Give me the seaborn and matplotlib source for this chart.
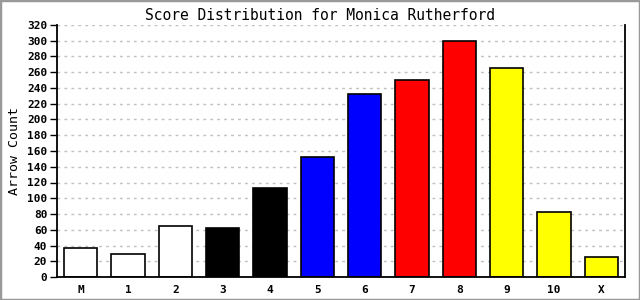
import matplotlib
matplotlib.use("Agg")
import matplotlib.pyplot as plt
import seaborn as sns
import pandas as pd
from matplotlib.patches import Rectangle

categories = ["M", "1", "2", "3", "4", "5", "6", "7", "8", "9", "10", "X"]
counts = [37, 29, 65, 62, 113, 153, 232, 250, 300, 266, 83, 25]
bar_colors = ["#ffffff", "#ffffff", "#ffffff", "#000000", "#000000", "#0000ff",
              "#0000ff", "#ff0000", "#ff0000", "#ffff00", "#ffff00", "#ffff00"]
y_ticks = list(range(0, 321, 20))

sns.set_theme(style="white")
plt.rcParams["font.family"] = ["DejaVu Sans Mono"]
plt.rcParams["text.color"] = "black"
plt.rcParams["axes.labelcolor"] = "black"
plt.rcParams["xtick.color"] = "black"
plt.rcParams["ytick.color"] = "black"

df = pd.DataFrame({"Score": categories, "Count": counts})

fig = plt.figure(figsize=(6.4, 3.0), dpi=100)
fig.patch.set_facecolor("white")
ax = fig.add_axes([57 / 640, 23 / 300, (625 - 57) / 640, (277 - 25) / 300])

sns.barplot(data=df, x="Score", y="Count", hue="Score", order=categories,
            palette=dict(zip(categories, bar_colors)), legend=False,
            edgecolor="black", linewidth=1.2, width=0.71, saturation=1, ax=ax)

ax.set_ylim(0, 320)
ax.set_xlim(-0.5, len(categories) - 0.5)
ax.set_yticks(y_ticks)
ax.set_yticklabels([str(v) for v in y_ticks], fontweight="bold", fontsize=8, color="black")
ax.set_xticks(range(len(categories)))
ax.set_xticklabels(categories, fontweight="bold", fontsize=8, color="black")
ax.tick_params(axis="y", direction="out", length=5, width=1, color="black", pad=2, left=True)
ax.tick_params(axis="x", length=0, pad=6)
ax.set_axisbelow(True)
ax.yaxis.grid(True, color="#c0c0c0", linestyle=(0, (2, 3)), linewidth=1)
ax.xaxis.grid(False)

for side in ["left", "bottom", "right"]:
    ax.spines[side].set_visible(True)
    ax.spines[side].set_color("black")
    ax.spines[side].set_linewidth(1.3)
ax.spines["top"].set_visible(False)

ax.set_xlabel("")
ax.set_ylabel("Arrow Count", fontsize=9.5, color="black")
ax.yaxis.set_label_coords(-0.064, 0.5)
fig.suptitle("Score Distribution for Monica Rutherford", fontsize=10.5, y=0.972, color="black")

fig.patches.append(Rectangle((0, 0), 1, 1, transform=fig.transFigure, fill=False,
                             edgecolor="#999999", linewidth=2.5, zorder=10))

fig.savefig("out.png", dpi=100)
